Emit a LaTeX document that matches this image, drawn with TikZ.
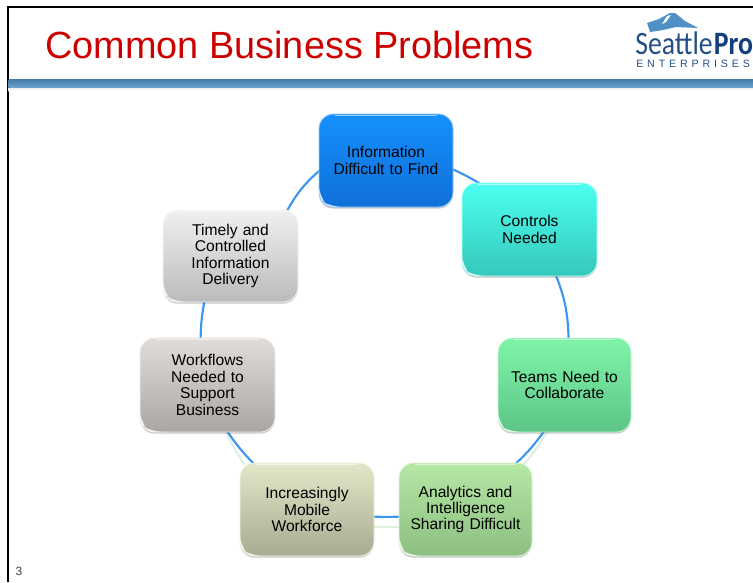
\documentclass[tikz,border=0pt]{standalone}
\usepackage{fontspec}
\setmainfont{Liberation Sans}
\newfontfamily\logofont[FakeStretch=0.85]{Carlito}
\usetikzlibrary{backgrounds,shadows}
\definecolor{frameblack}{HTML}{000000}
\definecolor{titlered}{HTML}{CC0000}
\definecolor{logoblue}{HTML}{234F85}
\definecolor{logonavy}{HTML}{123E7C}
\definecolor{mountblue}{HTML}{4F90C6}
\definecolor{linkblue}{HTML}{3D97F2}
\definecolor{palelink}{HTML}{DDF0DC}
\definecolor{ta}{HTML}{1590FF}\definecolor{ba}{HTML}{0F6FD8}
\definecolor{tb}{HTML}{4BFFF0}\definecolor{bb}{HTML}{36C8BC}
\definecolor{tc}{HTML}{7FF5A8}\definecolor{bc}{HTML}{5CC487}
\definecolor{td}{HTML}{B5E8A5}\definecolor{bd}{HTML}{8CBF80}
\definecolor{te}{HTML}{E3E6C8}\definecolor{be}{HTML}{A9AB92}
\definecolor{tf}{HTML}{E0DDD8}\definecolor{bf}{HTML}{AAA7A2}
\definecolor{tg}{HTML}{F0F0F0}\definecolor{bg}{HTML}{BBBBBB}
\tikzset{
  x=0.75pt,y=-0.75pt,
  stepbox/.style n args={4}{
    rectangle,rounded corners=11pt,
    minimum width=#3*0.75pt,minimum height=#4*0.75pt,
    inner sep=0pt,text width=#3*0.75pt-6pt,align=center,
    font=\fontsize{11.7}{12.3}\selectfont,text=black,
    top color=#1,bottom color=#2,draw=#1!45!white,line width=0.6pt,
    drop shadow={shadow xshift=0pt,shadow yshift=-1.2pt,opacity=0.22,fill=black},
    path picture={
      \fill[white,opacity=0.85]
        ([xshift=0pt,yshift=10pt]path picture bounding box.south west)
        .. controls +(1pt,-5pt) and +(-4pt,3pt) ..
        ([xshift=10pt,yshift=0pt]path picture bounding box.south west)
        -- ([xshift=7pt,yshift=0pt]path picture bounding box.south west)
        -- ([xshift=0pt,yshift=5pt]path picture bounding box.south west) -- cycle;
      \draw[white,opacity=0.55,line width=1.2pt]
        ([xshift=12pt,yshift=-1pt]path picture bounding box.north west) --
        ([xshift=-12pt,yshift=-1pt]path picture bounding box.north east);
    }},
  linkline/.style={draw=linkblue,line width=1.6pt},
  paleline/.style={draw=palelink,line width=1.5pt}
}
\begin{document}
\begin{tikzpicture}
\clip (0,0) rectangle (753,582);
% frame
\draw[frameblack,line width=1.4pt] (7.8,582) -- (7.8,7.2) -- (753,7.2);
% header band
\shade[top color=black!8,bottom color=white] (8.7,87) rectangle (753,91);
\shade[top color=mountblue!85!black,bottom color=mountblue!85!white] (8.7,79) rectangle (753,87);
% title
\node[anchor=base west,inner sep=0pt,text=titlered,font=\fontsize{28.4}{30}\selectfont] (title) at (45,58) {Common Business Problems};
% logo
\fill[mountblue] (647,23) -- (659,19) -- (670,13) -- (675,13) -- (685,21) -- (698,28) -- (676,27) -- (663,30) -- (650,32) -- cycle;
\fill[white] (667,16) -- (671,15) -- (666,22) -- (662,24) -- cycle;
\node[anchor=base west,inner sep=0pt,text=logoblue,font=\logofont\fontsize{24.5}{25}\selectfont] (logoa) at (635,54) {Seattle};
\node[anchor=base west,inner sep=0pt,text=logonavy,font=\logofont\bfseries\fontsize{24.5}{25}\selectfont] (logob) at (713.5,54) {Pro};
\node[anchor=base west,inner sep=0pt,text=logoblue,font=\fontsize{8}{8}\selectfont\addfontfeature{LetterSpace=36}] (logoc) at (636,67) {ENTERPRISES};
% slide number
\node[anchor=base,inner sep=0pt,text=black!75,font=\fontsize{9}{9}\selectfont] (num) at (19,575) {3};
% boxes
\node[stepbox={ta}{ba}{134}{93}] (n1) at (386,160.5) {Information\\Difficult to Find};
\node[stepbox={tb}{bb}{135}{93}] (n2) at (529.5,229.5) {Controls\\Needed};
\node[stepbox={tc}{bc}{133}{94}] (n3) at (564.5,385) {Teams Need to\\Collaborate};
\node[stepbox={td}{bd}{133}{93}] (n4) at (465.5,509.5) {Analytics and\\Intelligence\\Sharing Difficult};
\node[stepbox={te}{be}{134}{93}] (n5) at (307,509.5) {Increasingly\\Mobile\\Workforce};
\node[stepbox={tf}{bf}{135}{94}] (n6) at (207.5,385) {Workflows\\Needed to\\Support\\Business};
\node[stepbox={tg}{bg}{135}{92}] (n7) at (230.5,256) {Timely and\\Controlled\\Information\\Delivery};
% connectors
\begin{scope}[on background layer]
\fill[white] (0,0) rectangle (753,582);
\draw[paleline] ([shift={(50,-2)}]n3.south west) to[bend left=6] ([shift={(125,2)}]n4.north west);
\draw[paleline] ([shift={(2,64)}]n4.north west) -- ([shift={(-2,64)}]n5.north east);
\draw[paleline] ([shift={(5,2)}]n5.north west) to[bend left=5] ([shift={(86,-2)}]n6.south west);
\draw[linkline] ([shift={(-2,55)}]n1.north east) to[bend left=3] ([shift={(20,2)}]n2.north west);
\draw[linkline] ([shift={(94,-2)}]n2.south west) to[bend left=10] ([shift={(71,2)}]n3.north west);
\draw[linkline] ([shift={(47,-2)}]n3.south west) to[bend left=6] ([shift={(116,2)}]n4.north west);
\draw[linkline] ([shift={(2,54)}]n4.north west) to[bend left=2] ([shift={(-2,54)}]n5.north east);
\draw[linkline] ([shift={(15,2)}]n5.north west) to[bend left=5] ([shift={(87,-2)}]n6.south west);
\draw[linkline] ([shift={(61,2)}]n6.north west) to[bend left=5] ([shift={(42,-2)}]n7.south west);
\draw[linkline] ([shift={(124,2)}]n7.north west) to[bend left=10] ([shift={(2,56)}]n1.north west);
\end{scope}
\end{tikzpicture}
\end{document}
